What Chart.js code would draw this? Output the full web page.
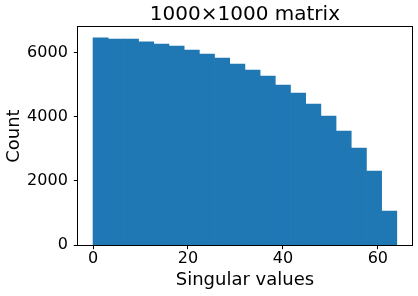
<!DOCTYPE html>
<html>
<head>
<meta charset="utf-8">
<script src="https://cdn.jsdelivr.net/npm/chart.js@4"></script>
<style>
html,body{margin:0;padding:0;background:#fff;}
#wrap{width:418px;height:296px;}
</style>
</head>
<body>
<div id="wrap"><canvas id="histChart" width="418" height="296"></canvas></div>
<script>
// histogram bins (left edges) and counts
var binStarts = [0, 3.2, 6.4, 9.6, 12.8, 16, 19.2, 22.4, 25.6, 28.8,
                 32, 35.2, 38.4, 41.6, 44.8, 48, 51.2, 54.4, 57.6, 60.8];
var binWidth = 3.2;
var counts = [6450, 6415, 6415, 6325, 6260, 6200, 6075, 5950, 5825, 5640,
              5450, 5265, 4985, 4735, 4395, 4020, 3550, 3020, 2305, 1060];
var xTicks = [0, 20, 40, 60];
var yTicks = [0, 2000, 4000, 6000];

var points = [];
for(var i=0;i<binStarts.length;i++){
  points.push({x: binStarts[i] + binWidth/2, y: counts[i]});
}

var font = "DejaVu Sans";

/* box around the plot area like matplotlib spines */
var frame = {
  id: "frame",
  afterDraw: function(chart){
    var a = chart.chartArea, c = chart.ctx;
    c.save();
    c.strokeStyle = "#000";
    c.lineWidth = 1;
    c.strokeRect(Math.round(a.left)-0.5, Math.round(a.top)-0.5,
                 Math.round(a.right-a.left)+1, Math.round(a.bottom-a.top)+1);
    c.restore();
  }
};

function fixedTicks(list){
  return function(axis){
    axis.ticks = list.map(function(v){ return {value: v}; });
  };
}

new Chart(document.getElementById("histChart").getContext("2d"), {
  type: "bar",
  data: {
    datasets: [{
      data: points,
      backgroundColor: "#1f77b4",
      borderWidth: 0,
      barPercentage: 1,
      categoryPercentage: 1
    }]
  },
  plugins: [frame],
  options: {
    responsive: false,
    animation: false,
    layout: {padding: {left: 0, right: 6, top: 0, bottom: 5}},
    plugins: {
      legend: {display: false},
      tooltip: {enabled: false},
      title: {
        display: true,
        text: "1000\u00d71000 matrix",
        fullSize: false,
        color: "#000",
        font: {family: font, size: 20, weight: "normal"},
        padding: {top: 3, bottom: 0}
      }
    },
    scales: {
      x: {
        type: "linear",
        min: -3.2,
        max: 67.2,
        offset: false,
        afterBuildTicks: fixedTicks(xTicks),
        grid: {offset: false, drawOnChartArea: false, drawTicks: true, tickLength: 4, color: "#000"},
        border: {display: false},
        ticks: {
          color: "#000",
          padding: 0,
          maxRotation: 0,
          autoSkip: false,
          font: {family: font, size: 16}
        },
        title: {
          display: true,
          text: "Singular values",
          color: "#000",
          font: {family: font, size: 18},
          padding: {top: 1, bottom: 0}
        }
      },
      y: {
        type: "linear",
        min: 0,
        max: 6790,
        afterBuildTicks: fixedTicks(yTicks),
        grid: {drawOnChartArea: false, drawTicks: true, tickLength: 4, color: "#000"},
        border: {display: false},
        ticks: {
          color: "#000",
          padding: 6,
          autoSkip: false,
          font: {family: font, size: 16},
          callback: function(v){ return String(v); }
        },
        title: {
          display: true,
          text: "Count",
          color: "#000",
          font: {family: font, size: 18},
          padding: {top: 4, bottom: -4.5}
        }
      }
    }
  }
});
</script>
</body>
</html>
